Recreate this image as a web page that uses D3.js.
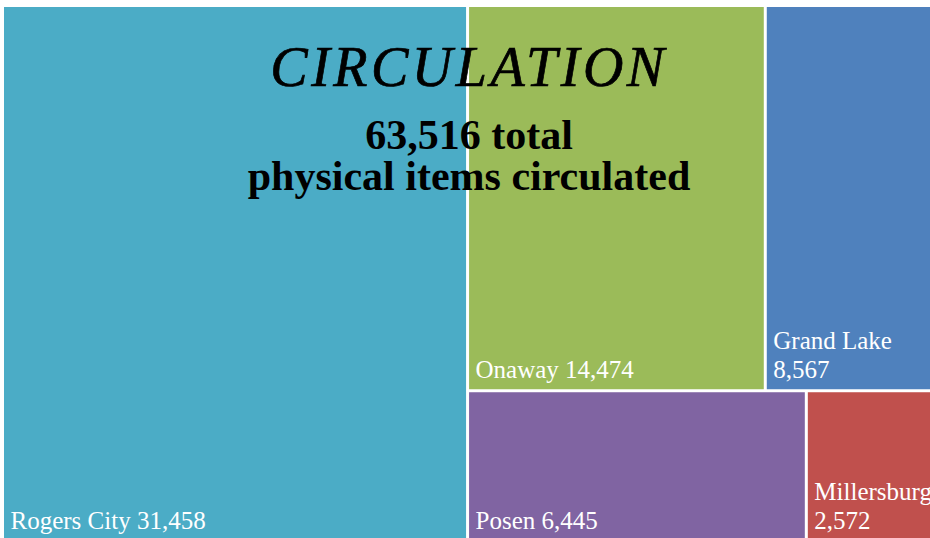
<!DOCTYPE html>
<html>
<head>
<meta charset="utf-8">
<script src="https://cdn.jsdelivr.net/npm/d3@7"></script>
<style>
  body { margin: 0; background: #fff; }
  svg { display: block; }
</style>
</head>
<body>
<div id="chart"></div>
<script>
// data
const branches = ["Rogers City", "Onaway", "Grand Lake", "Posen", "Millersburg"];
const circulation = [31458, 14474, 8567, 6445, 2572];
const colors = ["#4BACC6", "#9BBB59", "#4F81BD", "#8064A2", "#C0504D"];
const titleText = "CIRCULATION";
const subtitleLines = ["63,516 total", "physical items circulated"];

const width = 930, height = 538;
// the treemap runs a little past the right and bottom of the window
const tmX = 2.5, tmY = 5.5, tmW = 939, tmH = 536;
const gap = 3;

const svg = d3.select("#chart")
    .append("svg")
    .attr("width", width)
    .attr("height", height);

const rootData = {
    name: "root",
    children: branches.map((b, i) => ({name: b, value: circulation[i], color: colors[i]}))
};

const root = d3.hierarchy(rootData)
    .sum(d => d.value || 0)
    .sort((a, b) => b.value - a.value);

d3.treemap()
    .tile(d3.treemapSquarify)
    .size([tmW, tmH])(root);

const fmt = d3.format(",");

const g = svg.append("g")
    .attr("transform", `translate(${tmX},${tmY})`);

const cell = g.selectAll("g.cell")
    .data(root.leaves())
    .join("g")
    .attr("class", "cell");

cell.append("rect")
    .attr("x", d => d.x0 + gap / 2)
    .attr("y", d => d.y0 + gap / 2)
    .attr("width", d => d.x1 - d.x0 - gap)
    .attr("height", d => d.y1 - d.y0 - gap)
    .attr("fill", d => d.data.color);

// labels sit in the bottom-left corner, wrapped onto two lines when too wide
const labelSize = 25, lineH = 29, padL = 8, padB = 12.5;
cell.each(function(d) {
    const sel = d3.select(this);
    const full = d.data.name + " " + fmt(d.data.value);
    const t = sel.append("text")
        .attr("x", d.x0 + padL)
        .attr("y", d.y1 - padB)
        .style("font-family", "'Liberation Serif', 'Times New Roman', serif")
        .style("font-size", labelSize + "px")
        .attr("fill", "#fff")
        .text(full);
    if (t.node().getComputedTextLength() > d.x1 - d.x0 - padL - 4) {
        t.text(null);
        t.append("tspan")
            .attr("x", d.x0 + padL)
            .attr("y", d.y1 - padB - lineH)
            .text(d.data.name);
        t.append("tspan")
            .attr("x", d.x0 + padL)
            .attr("y", d.y1 - padB)
            .text(fmt(d.data.value));
    }
});

// title
svg.append("text")
    .attr("text-anchor", "middle")
    .attr("x", 469)
    .attr("y", 86)
    .style("font-family", "'Liberation Serif', 'Times New Roman', serif")
    .style("font-style", "italic")
    .style("font-size", "56px")
    .style("letter-spacing", "3.5px")
    .attr("fill", "#000")
    .attr("stroke", "#000")
    .attr("stroke-width", 0.7)
    .text(titleText);

svg.append("g")
    .selectAll("text")
    .data(subtitleLines)
    .join("text")
    .attr("text-anchor", "middle")
    .attr("x", 469)
    .attr("y", (d, i) => 149 + i * 41)
    .style("font-family", "'Liberation Serif', 'Times New Roman', serif")
    .style("font-weight", "bold")
    .style("font-size", "42px")
    .attr("fill", "#000")
    .text(d => d);
</script>
</body>
</html>
